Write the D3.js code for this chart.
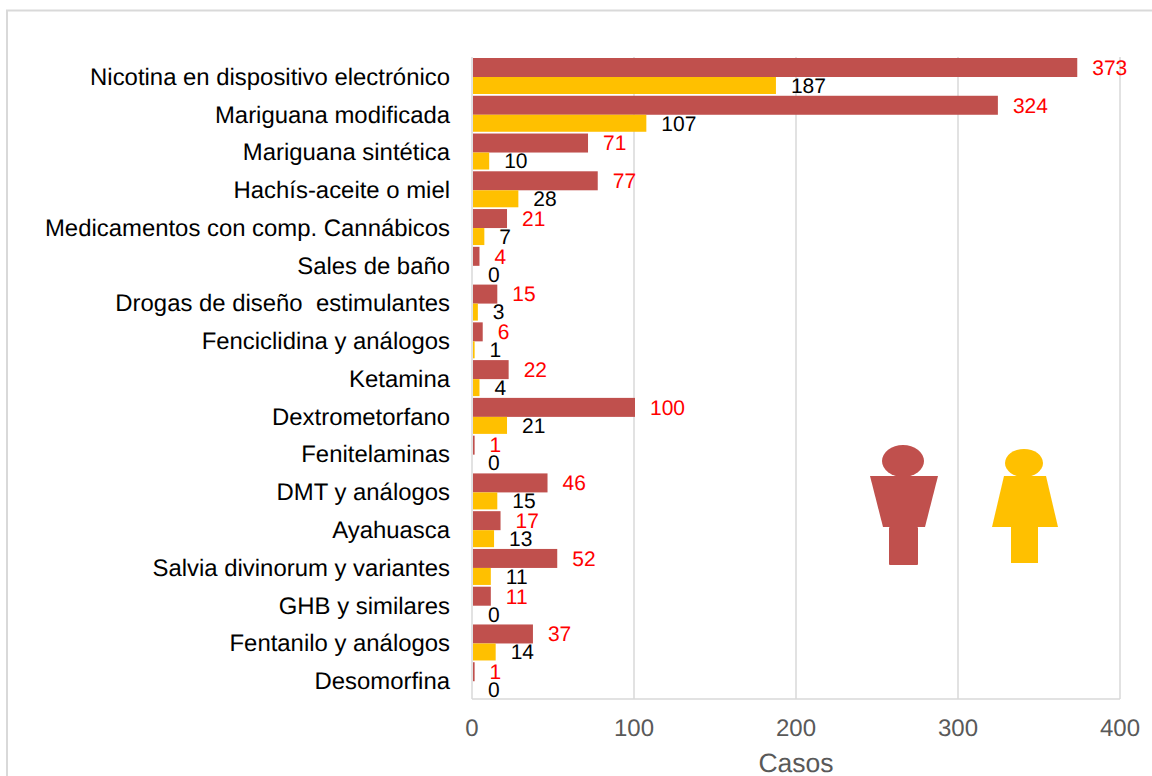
<!DOCTYPE html>
<html><head><meta charset="utf-8">
<script src="https://cdnjs.cloudflare.com/ajax/libs/d3/7.8.5/d3.min.js"></script>
<style>html,body{margin:0;padding:0;background:#fff;overflow:hidden}svg{display:block}text{font-family:"Liberation Sans",Arial,sans-serif;text-rendering:geometricPrecision}</style>
</head><body><svg id="c" width="1152" height="776"></svg>
<script>
const categories = ["Nicotina en dispositivo electrónico","Mariguana modificada","Mariguana sintética","Hachís-aceite o miel","Medicamentos con comp. Cannábicos","Sales de baño","Drogas de diseño  estimulantes","Fenciclidina y análogos","Ketamina","Dextrometorfano","Fenitelaminas","DMT y análogos","Ayahuasca","Salvia divinorum y variantes","GHB y similares","Fentanilo y análogos","Desomorfina"];
const hombres = [373,324,71,77,21,4,15,6,22,100,1,46,17,52,11,37,1];
const mujeres = [187,107,10,28,7,0,3,1,4,21,0,15,13,11,0,14,0];
const xTicks = [0,100,200,300,400];
const axisTitle = "Casos";
const RED="#c0504d", YEL="#ffc000", GRID="#d9d9d9", GRAY="#595959";
const svg=d3.select("#c");
svg.append("rect").attr("x",7).attr("y",10.5).attr("width",1160).attr("height",790).attr("fill","none").attr("stroke",GRID).attr("stroke-width",2);
const x=d3.scaleLinear().domain([0,400]).range([472,1120]);
const y=d3.scaleBand().domain(categories).range([57,699]);
const bw=y.bandwidth();
// gridlines
svg.append("g").selectAll("line").data(xTicks).join("line")
 .attr("x1",d=>x(d)).attr("x2",d=>x(d)).attr("y1",57).attr("y2",699)
 .attr("stroke",GRID).attr("stroke-width",1.5);
svg.append("line").attr("x1",472).attr("x2",1120).attr("y1",699).attr("y2",699).attr("stroke",GRID).attr("stroke-width",1.5);
const redH=19, yelH=17, pad=1, barOff=1;
svg.append("g").selectAll("rect").data(categories).join("rect")
 .attr("x",x(0)+barOff).attr("y",d=>y(d)+pad).attr("height",redH)
 .attr("width",(d,i)=>x(hombres[i])-x(0)).attr("fill",RED);
svg.append("g").selectAll("rect").data(categories).join("rect")
 .attr("x",x(0)+barOff).attr("y",d=>y(d)+pad+redH).attr("height",yelH)
 .attr("width",(d,i)=>x(mujeres[i])-x(0)).attr("fill",YEL);
// category labels
svg.append("g").selectAll("text").data(categories).join("text")
 .attr("x",450).attr("y",d=>y(d)+bw/2+0.6).attr("dy","0.35em").attr("text-anchor","end")
 .attr("font-size",23.9).attr("fill","#000").style("white-space","pre").text(d=>d);
// value labels
svg.append("g").selectAll("text").data(categories).join("text")
 .attr("x",(d,i)=>x(hombres[i])+16).attr("y",d=>y(d)+pad+redH/2).attr("dy","0.35em")
 .attr("font-size",21).attr("fill","#ff0000").text((d,i)=>hombres[i]);
svg.append("g").selectAll("text").data(categories).join("text")
 .attr("x",(d,i)=>x(mujeres[i])+16).attr("y",d=>y(d)+pad+redH+yelH/2).attr("dy","0.35em")
 .attr("font-size",21).attr("fill","#000").text((d,i)=>mujeres[i]);
// ticks
svg.append("g").selectAll("text").data(xTicks).join("text")
 .attr("x",d=>x(d)).attr("y",736).attr("text-anchor","middle")
 .attr("font-size",24).attr("fill",GRAY).text(d=>d);
svg.append("text").attr("x",796).attr("y",771.5).attr("text-anchor","middle")
 .attr("font-size",26.5).attr("fill",GRAY).text(axisTitle);
// icons
const m=svg.append("g").attr("fill",RED);
m.append("ellipse").attr("cx",903).attr("cy",461).attr("rx",21).attr("ry",16);
m.append("polygon").attr("points","870,476 938,476 925,527 883,527");
m.append("rect").attr("x",889).attr("y",527).attr("width",29).attr("height",38).attr("rx",1);
const f=svg.append("g").attr("fill",YEL);
f.append("ellipse").attr("cx",1024).attr("cy",463).attr("rx",19).attr("ry",14);
f.append("polygon").attr("points","1004,476 1046,476 1058,527 992,527");
f.append("rect").attr("x",1011).attr("y",527).attr("width",27).attr("height",36);
</script></body></html>
